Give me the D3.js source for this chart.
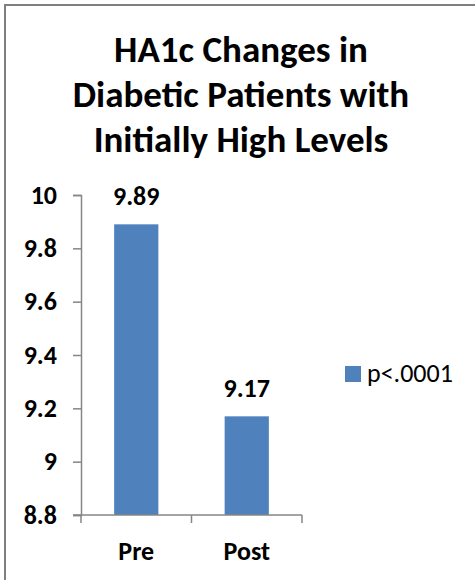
<!DOCTYPE html>
<html>
<head>
<meta charset="utf-8">
<script src="https://cdn.jsdelivr.net/npm/d3@7"></script>
<style>
  html, body { margin: 0; padding: 0; background: #fff; }
  svg { display: block; }
</style>
</head>
<body>
<script>
// HA1c before and after, for patients with initially high levels
const categories = ["Pre", "Post"];
const values = [9.89, 9.17];
const yTicks = [8.8, 9, 9.2, 9.4, 9.6, 9.8, 10];
const titleLines = ["HA1c Changes in", "Diabetic Patients with", "Initially High Levels"];
const legendLabel = "p<.0001";

const W = 475, H = 580;
const font = "Carlito, Calibri, Lato, 'Liberation Sans', sans-serif";
const barColor = "#4f81bd";
const axisColor = "#868686";
const labelSize = 26;

const svg = d3.select("body").append("svg").attr("width", W).attr("height", H);

// frame: top and left edges
svg.append("line").attr("x1", 4).attr("x2", W).attr("y1", 5).attr("y2", 5)
  .attr("stroke", "#7f7f7f").attr("stroke-width", 2);
svg.append("line").attr("x1", 5).attr("x2", 5).attr("y1", 4).attr("y2", H)
  .attr("stroke", "#7f7f7f").attr("stroke-width", 2);

// title
svg.append("g").selectAll("text").data(titleLines).join("text")
  .attr("x", 241).attr("y", (d, i) => 62 + i * 45)
  .attr("text-anchor", "middle")
  .attr("font-family", font).attr("font-weight", "bold").attr("font-size", 37)
  .attr("fill", "#000").text(d => d);

const plotLeft = 81, plotRight = 302, plotTop = 195, plotBottom = 515;

const x = d3.scaleBand().domain(categories).range([plotLeft, plotRight]).paddingInner(0.6).paddingOuter(0.3);
const y = d3.scaleLinear().domain([8.8, 10]).range([plotBottom, plotTop]);

// bars
svg.append("g").selectAll("rect").data(values).join("rect")
  .attr("x", (d, i) => x(categories[i]))
  .attr("width", x.bandwidth())
  .attr("y", d => y(d))
  .attr("height", d => y(8.8) - y(d))
  .attr("fill", barColor);

// value labels
svg.append("g").selectAll("text").data(values).join("text")
  .attr("x", (d, i) => x(categories[i]) + x.bandwidth() / 2)
  .attr("y", d => y(d) - 19)
  .attr("text-anchor", "middle")
  .attr("font-family", font).attr("font-weight", "bold").attr("font-size", labelSize)
  .text(d => d.toFixed(2));

// y axis
const yAxis = svg.append("g").attr("transform", `translate(${plotLeft},0)`)
  .call(d3.axisLeft(y).tickValues(yTicks).tickSize(8).tickPadding(16)
    .tickFormat(d => d3.format("~g")(d)));
yAxis.select(".domain").attr("stroke", axisColor).attr("stroke-width", 1.5);
yAxis.selectAll(".tick line").attr("stroke", axisColor).attr("stroke-width", 1.5);
yAxis.selectAll("text").attr("font-family", font).attr("font-weight", "bold")
  .attr("font-size", labelSize).attr("fill", "#000");

// x axis with boundary ticks between categories
const xAxisG = svg.append("g").attr("transform", `translate(0,${plotBottom})`);
xAxisG.append("line").attr("x1", plotLeft - 8).attr("x2", plotRight)
  .attr("stroke", axisColor).attr("stroke-width", 1.5);
const bounds = [plotLeft, plotLeft + (plotRight - plotLeft) / 2, plotRight];
xAxisG.selectAll("line.tick").data(bounds).join("line").attr("class", "tick")
  .attr("x1", d => d).attr("x2", d => d).attr("y1", 0).attr("y2", 8)
  .attr("stroke", axisColor).attr("stroke-width", 1.5);
xAxisG.selectAll("text").data(categories).join("text")
  .attr("x", d => x(d) + x.bandwidth() / 2)
  .attr("y", 45)
  .attr("text-anchor", "middle")
  .attr("font-family", font).attr("font-weight", "bold").attr("font-size", labelSize)
  .text(d => d);

// legend
const lg = svg.append("g").attr("transform", "translate(345,366)");
lg.append("rect").attr("width", 16).attr("height", 16).attr("fill", barColor);
lg.append("text").attr("x", 22).attr("y", 16)
  .attr("font-family", font).attr("font-size", labelSize).attr("fill", "#000")
  .text(legendLabel);
</script>
</body>
</html>
